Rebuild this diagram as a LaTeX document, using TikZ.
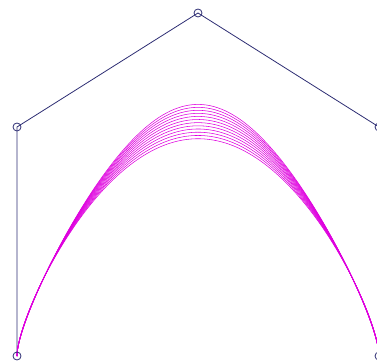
\documentclass[tikz,border=0pt]{standalone}
\definecolor{polyc}{RGB}{45,45,115}
\definecolor{curvec}{RGB}{222,0,222}
\tikzset{
  polyline/.style={draw=polyc, line width=0.8pt},
  ctrlpt/.style={circle, draw=polyc, line width=0.8pt, minimum size=8pt, inner sep=0pt},
  curveline/.style={draw=curvec, line width=0.55pt},
  declare function={
    dn(\t,\w,\a)=(1-\t)^4+4*\a*\t*(1-\t)^3+6*\w*\t^2*(1-\t)^2+4*\a*\t^3*(1-\t)+\t^4;
    rx(\t,\w,\a)=(17*(1-\t)^4+4*\a*17*\t*(1-\t)^3+6*\w*198*\t^2*(1-\t)^2+4*\a*379*\t^3*(1-\t)+379*\t^4)/dn(\t,\w,\a);
    ry(\t,\w,\a)=(356*(1-\t)^4+4*\a*127*\t*(1-\t)^3+6*\w*13*\t^2*(1-\t)^2+4*\a*127*\t^3*(1-\t)+356*\t^4)/dn(\t,\w,\a);
  }
}
\begin{document}
\begin{tikzpicture}[x=1pt,y=-1pt]
\useasboundingbox (0,0) rectangle (377,363);
\coordinate (P0) at (17,356);
\coordinate (P1) at (17,127);
\coordinate (P2) at (198,13);
\coordinate (P3) at (379,127);
\coordinate (P4) at (379,356);
\draw[polyline] (P0) -- (P1) -- (P2) -- (P3) -- (P4);
\foreach \k in {0,...,11}{
  \pgfmathsetmacro{\w}{0.55*(1/0.55)^(\k/11)}
  \pgfmathsetmacro{\a}{0.25*(\w)^0.3}
  \draw[curveline] plot[variable=\t, domain=0:1, samples=120, smooth] ({rx(\t,\w,\a)},{ry(\t,\w,\a)});
}
\foreach \p in {P0,P1,P2,P3,P4}{
  \node[ctrlpt] (c\p) at (\p) {};
}
\end{tikzpicture}
\end{document}
